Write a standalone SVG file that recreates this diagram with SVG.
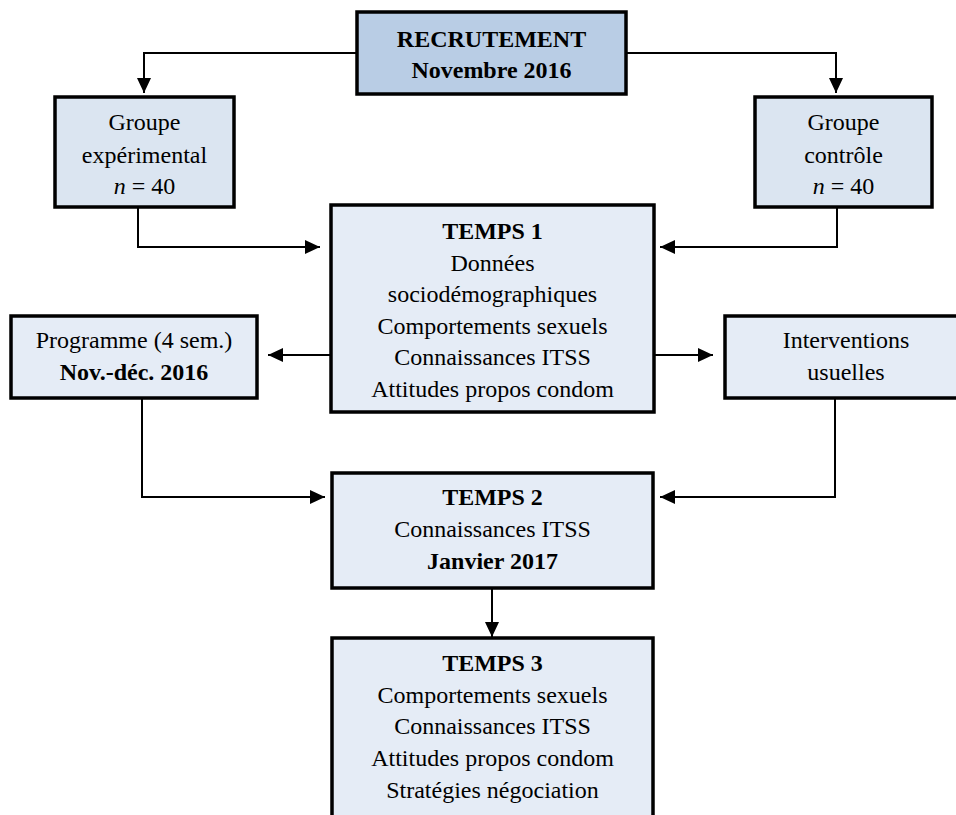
<svg xmlns="http://www.w3.org/2000/svg" width="956" height="815" viewBox="0 0 956 815">
<defs>
<style>
.box{stroke:#000;stroke-width:3.5}
.rec{fill:#b9cde5}
.grp{fill:#dbe5f1}
.tmp{fill:#e5ecf6}
.t{font-family:"Liberation Serif","Times New Roman",serif;font-size:24px;fill:#000;text-anchor:middle}
.b{font-weight:bold}
.i{font-style:italic}
.c{fill:none;stroke:#000;stroke-width:2}
</style>
<marker id="ah" markerUnits="userSpaceOnUse" markerWidth="16" markerHeight="16" viewBox="0 0 16 16" refX="15" refY="8" orient="auto">
<path d="M0,1 L15,8 L0,15 Z" fill="#000"/>
</marker>
</defs>
<rect width="956" height="815" fill="#fff"/>
<g id="connectors">
<path class="c" d="M357,53 H144 V93" marker-end="url(#ah)"/>
<path class="c" d="M626,53 H836 V93" marker-end="url(#ah)"/>
<path class="c" d="M138,207 V247 H320" marker-end="url(#ah)"/>
<path class="c" d="M837,207 V247 H660" marker-end="url(#ah)"/>
<path class="c" d="M331,355 H268" marker-end="url(#ah)"/>
<path class="c" d="M654,355 H713" marker-end="url(#ah)"/>
<path class="c" d="M142,398 V497 H325" marker-end="url(#ah)"/>
<path class="c" d="M835,398 V497 H660" marker-end="url(#ah)"/>
<path class="c" d="M492,588 V637" marker-end="url(#ah)"/>
</g>
<g id="recrutement">
<rect class="box rec" x="357" y="12" width="269" height="82"/>
<text class="t b" x="491.5" y="47">RECRUTEMENT</text>
<text class="t b" x="491.5" y="78">Novembre 2016</text>
</g>
<g id="groupe-experimental">
<rect class="box grp" x="55" y="97" width="179" height="110"/>
<text class="t" x="144.5" y="130">Groupe</text>
<text class="t" x="144.5" y="163">expérimental</text>
<text class="t" x="144.5" y="194"><tspan class="i">n</tspan> = 40</text>
</g>
<g id="groupe-controle">
<rect class="box grp" x="755" y="97" width="177" height="110"/>
<text class="t" x="843.5" y="130">Groupe</text>
<text class="t" x="843.5" y="163">contrôle</text>
<text class="t" x="843.5" y="194"><tspan class="i">n</tspan> = 40</text>
</g>
<g id="temps1">
<rect class="box tmp" x="331" y="205" width="323" height="207"/>
<text class="t b" x="492.5" y="239">TEMPS 1</text>
<text class="t" x="492.5" y="271">Données</text>
<text class="t" x="492.5" y="302">sociodémographiques</text>
<text class="t" x="492.5" y="334">Comportements sexuels</text>
<text class="t" x="492.5" y="365">Connaissances ITSS</text>
<text class="t" x="492.5" y="397">Attitudes propos condom</text>
</g>
<g id="programme">
<rect class="box tmp" x="11" y="316" width="246" height="82"/>
<text class="t" x="134" y="348">Programme (4 sem.)</text>
<text class="t b" x="134" y="380">Nov.-déc. 2016</text>
</g>
<g id="interventions">
<rect class="box tmp" x="725" y="316" width="242" height="82"/>
<text class="t" x="846" y="348">Interventions</text>
<text class="t" x="846" y="380">usuelles</text>
</g>
<g id="temps2">
<rect class="box tmp" x="332" y="473" width="321" height="115"/>
<text class="t b" x="492.5" y="505">TEMPS 2</text>
<text class="t" x="492.5" y="537">Connaissances ITSS</text>
<text class="t b" x="492.5" y="569">Janvier 2017</text>
</g>
<g id="temps3">
<rect class="box tmp" x="332" y="638" width="321" height="190"/>
<text class="t b" x="492.5" y="671">TEMPS 3</text>
<text class="t" x="492.5" y="703">Comportements sexuels</text>
<text class="t" x="492.5" y="734">Connaissances ITSS</text>
<text class="t" x="492.5" y="766">Attitudes propos condom</text>
<text class="t" x="492.5" y="798">Stratégies négociation</text>
</g>
</svg>
